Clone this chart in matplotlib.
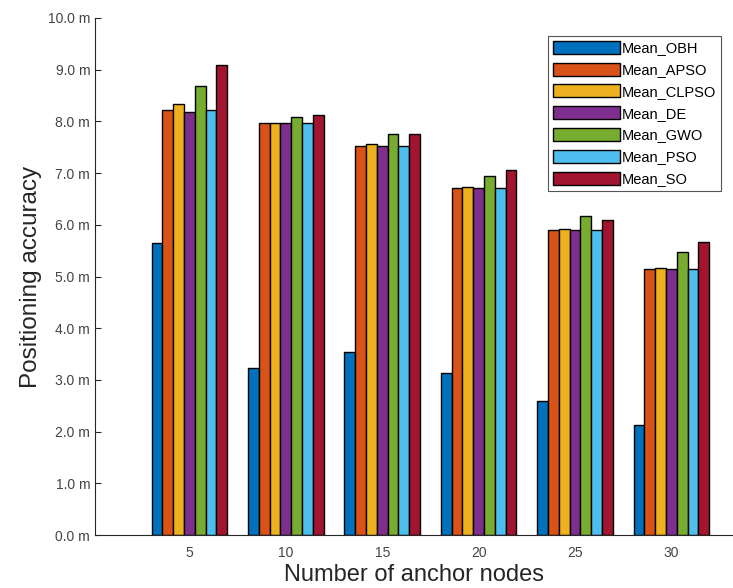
import matplotlib
matplotlib.use("Agg")
import matplotlib.pyplot as plt
import numpy as np

plt.rcParams['font.family'] = ['Liberation Sans', 'DejaVu Sans']

categories = ['5', '10', '15', '20', '25', '30']
series_names = ['Mean_OBH', 'Mean_APSO', 'Mean_CLPSO', 'Mean_DE', 'Mean_GWO', 'Mean_PSO', 'Mean_SO']
mean_obh = [5.65, 3.23, 3.54, 3.13, 2.59, 2.13]
mean_apso = [8.22, 7.96, 7.52, 6.71, 5.90, 5.15]
mean_clpso = [8.34, 7.96, 7.56, 6.74, 5.92, 5.17]
mean_de = [8.19, 7.96, 7.52, 6.71, 5.90, 5.15]
mean_gwo = [8.68, 8.08, 7.76, 6.94, 6.17, 5.47]
mean_pso = [8.22, 7.96, 7.52, 6.71, 5.90, 5.15]
mean_so = [9.09, 8.13, 7.76, 7.06, 6.10, 5.67]
yticks = [0, 1, 2, 3, 4, 5, 6, 7, 8, 9, 10]

series = [mean_obh, mean_apso, mean_clpso, mean_de, mean_gwo, mean_pso, mean_so]
colors = ['#0072BD', '#D95319', '#EDB120', '#7E2F8E', '#77AC30', '#4DBEEE', '#A2142F']

fig = plt.figure(figsize=(7.33, 5.88), dpi=100)
ax = fig.add_axes([0.1296, 0.0901, 0.8704, 0.8793])

x = np.arange(1, len(categories) + 1)
w = 0.112
n = len(series)
for i, (vals, c, name) in enumerate(zip(series, colors, series_names)):
    ax.bar(x + (i - (n - 1) / 2) * w, vals, width=w, color=c, edgecolor='black',
           linewidth=1.0, label=name)

ax.set_xlim(0.02, 6.64)
ax.set_ylim(0, 10)
ax.set_xticks(x)
ax.set_xticklabels(categories)
ax.set_yticks(yticks)
ax.set_yticklabels([f'{v:.1f} m' for v in yticks])

for s in ['top', 'right']:
    ax.spines[s].set_visible(False)
for s in ['left', 'bottom']:
    ax.spines[s].set_color('#262626')
    ax.spines[s].set_linewidth(0.8)

ax.tick_params(axis='y', direction='in', length=4, colors='#262626', labelcolor='#444444', labelsize=10)
ax.tick_params(axis='x', length=0, labelcolor='#444444', labelsize=10, pad=8)

ax.set_xlabel('Number of anchor nodes', fontsize=17, color='#262626', labelpad=3)
ax.set_ylabel('Positioning accuracy', fontsize=17.5, color='#262626', labelpad=4)

leg = ax.legend(loc='upper right', bbox_to_anchor=(0.993, 0.98), fontsize=10.5,
                handlelength=4.6, handleheight=1.0, handletextpad=0.15,
                labelspacing=0.5, borderpad=0.35, fancybox=False,
                edgecolor='#555555', framealpha=1)
leg.get_frame().set_linewidth(0.8)

fig.savefig('out.png', dpi=100)
